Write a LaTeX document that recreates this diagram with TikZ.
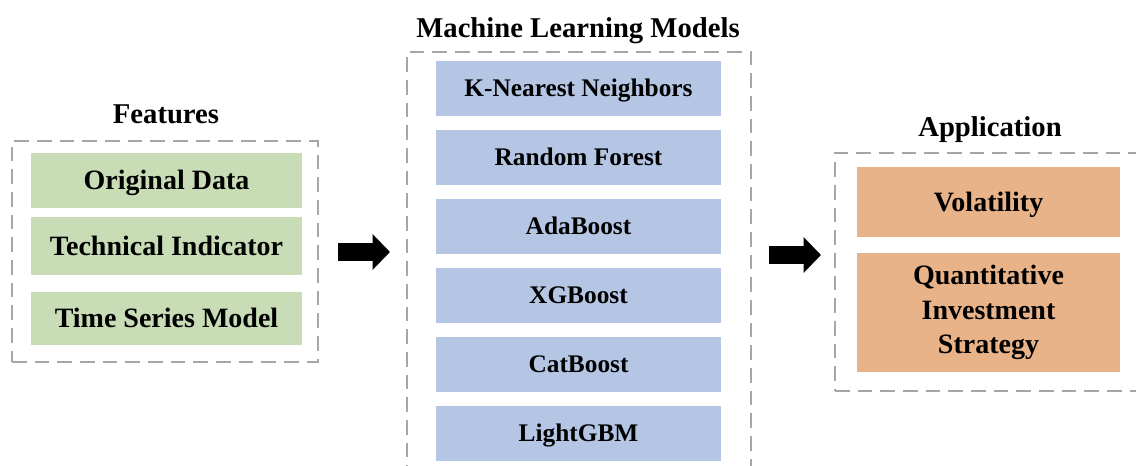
\documentclass[tikz,border=0pt]{standalone}
\usepackage{fontspec}
\setmainfont{Liberation Serif}
\usetikzlibrary{arrows.meta}
\definecolor{featgreen}{HTML}{C8DDB6}
\definecolor{mlblue}{HTML}{B4C6E4}
\definecolor{apporange}{HTML}{E9B38A}
\definecolor{dashgray}{HTML}{A6A6A6}
\tikzset{
  dashbox/.style={draw=dashgray, line width=1.7pt, dash pattern=on 11pt off 6pt, inner sep=0pt},
  titletext/.style={anchor=base, inner sep=0pt, font=\fontsize{21.5}{26}\selectfont\bfseries},
  featbox/.style={fill=featgreen, inner sep=0pt, align=center, text height=14pt, text depth=0pt,
    font=\fontsize{21}{26}\selectfont\bfseries, minimum width=271*0.75pt},
  mlbox/.style={fill=mlblue, inner sep=0pt, align=center, text height=12.6pt, text depth=0pt,
    font=\fontsize{19}{24}\selectfont\bfseries, minimum width=285*0.75pt, minimum height=55*0.75pt},
  appbox/.style={fill=apporange, inner sep=0pt, align=center,
    font=\fontsize{21}{26}\selectfont\bfseries, minimum width=263*0.75pt},
  blockarrow/.style={line width=13pt, -{Triangle[length=13pt 0, width=26pt 0]}},
}
\begin{document}
\begin{tikzpicture}[x=0.75pt, y=-0.75pt]
\clip (0,0) rectangle (1136,466);
\fill[white] (0,0) rectangle (1136,466);

% Features
\node[titletext] (feattitle) at (166,124) {Features};
\node[dashbox, minimum width=306*0.75pt, minimum height=221*0.75pt] (featgroup) at (165,251.5) {};
\node[featbox, minimum height=55*0.75pt] (orig) at (166.5,180.5) {Original Data};
\node[featbox, minimum height=58*0.75pt] (tech) at (166.5,246) {Technical Indicator};
\node[featbox, minimum height=53*0.75pt] (tsm) at (166.5,318.5) {Time Series Model};

% Machine learning models
\node[titletext] (mltitle) at (578,38) {Machine Learning Models};
\node[dashbox, minimum width=344*0.75pt, minimum height=440*0.75pt] (mlgroup) at (579,272) {};
\node[mlbox] (knn) at (578.5,88.5) {K-Nearest Neighbors};
\node[mlbox] (rf) at (578.5,157.5) {Random Forest};
\node[mlbox] (ada) at (578.5,226.5) {AdaBoost};
\node[mlbox] (xgb) at (578.5,295.5) {XGBoost};
\node[mlbox] (cat) at (578.5,364.5) {CatBoost};
\node[mlbox] (lgbm) at (578.5,433.5) {LightGBM};

% Application
\node[titletext] (apptitle) at (990,137) {Application};
\node[dashbox, minimum width=307*0.75pt, minimum height=238*0.75pt] (appgroup) at (988.5,272) {};
\node[appbox, minimum height=70*0.75pt, text height=14pt, text depth=0pt] (vol) at (988.5,202) {Volatility};
\node[appbox, minimum height=119*0.75pt] (qis) at (988.5,312.5) {Quantitative\\Investment\\Strategy};

% Arrows
\coordinate (a1s) at (338,252);
\coordinate (a1e) at (390,252);
\coordinate (a2s) at (769,255);
\coordinate (a2e) at (821,255);
\draw[blockarrow] (a1s) -- (a1e);
\draw[blockarrow] (a2s) -- (a2e);
\end{tikzpicture}
\end{document}
